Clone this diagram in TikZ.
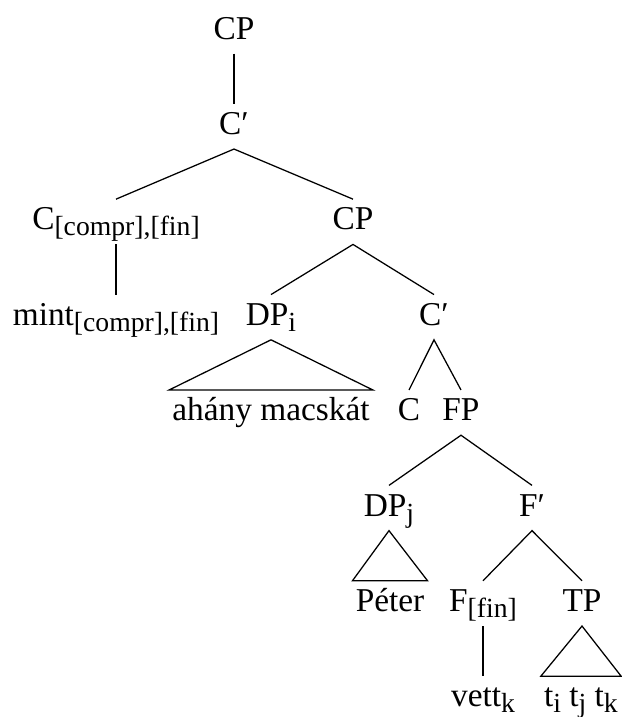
\documentclass[tikz,border=0pt]{standalone}
\usepackage{fontspec}
\setmainfont{Liberation Serif}
\usepackage{tikz}
\newcommand\lsub[1]{\raisebox{-1.8pt}{\fontsize{8.3}{9}\selectfont #1}}

\begin{document}
\begin{tikzpicture}[x=0.3pt,y=-0.3pt,font=\fontsize{10}{12}\selectfont,
  line width=0.38pt,
  lab/.style={inner ysep=0pt,inner xsep=0.8pt,text height=9pt,text depth=4.2pt,anchor=base}]
 \useasboundingbox (0,0) rectangle (621,717);
 \node[lab] (cp) at (234,39) {CP};
 \node[lab] (cbar) at (234,134.4) {C′};
 \node[lab] (cfeat) at (116,229.8) {C\lsub{[compr],[fin]}};
 \node[lab] (cp2) at (353,229.8) {CP};
 \node[lab] (mint) at (116,325.2) {mint\lsub{[compr],[fin]}};
 \node[lab] (dpi) at (271,325.2) {DP\lsub{i}};
 \node[lab] (cbar2) at (434,325.2) {C′};
 \node[lab] (ahany) at (271,420.6) {ahány macskát};
 \node[lab] (c) at (409,420.6) {C};
 \node[lab] (fp) at (461,420.6) {FP};
 \node[lab] (dpj) at (389,516) {DP\lsub{j}};
 \node[lab] (fbar) at (532,516) {F′};
 \node[lab] (peter) at (390,611.4) {Péter};
 \node[lab] (ffin) at (483,611.4) {F\lsub{[fin]}};
 \node[lab] (tp) at (582,611.4) {TP};
 \node[lab] (vett) at (483,706.8) {vett\lsub{k}};
 \node[lab] (traces) at (581,706.8) {t\lsub{i} t\lsub{j} t\lsub{k}};
 \draw (cp.south) -- (cbar.north);
 \draw (cfeat.north) -- (cbar.south) -- (cp2.north);
 \draw (cfeat.south) -- (mint.north);
 \draw (dpi.north) -- (cp2.south) -- (cbar2.north);
 \draw (ahany.north west) -- (dpi.south) -- (ahany.north east) -- cycle;
 \draw (c.north) -- (cbar2.south) -- (fp.north);
 \draw (dpj.north) -- (fp.south) -- (fbar.north);
 \draw (peter.north west) -- (dpj.south) -- (peter.north east) -- cycle;
 \draw (ffin.north) -- (fbar.south) -- (tp.north);
 \draw (ffin.south) -- (vett.north);
 \draw (traces.north west) -- (tp.south) -- (traces.north east) -- cycle;
\end{tikzpicture}
\end{document}
